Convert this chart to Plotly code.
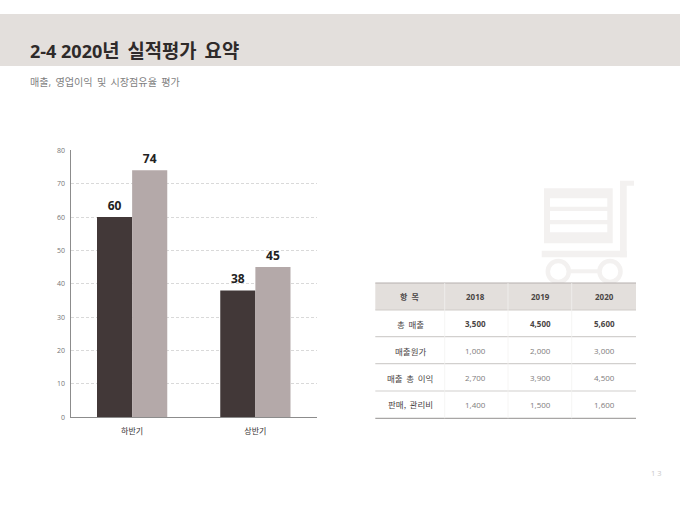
import plotly.graph_objects as go

categories = ["하반기", "상반기"]
series_dark = [60, 38]
series_light = [74, 45]
y_ticks = [0, 10, 20, 30, 40, 50, 60, 70, 80]

table_header = ["항  목", "2018", "2019", "2020"]
table_items = ["총 매출", "매출원가", "매출 총 이익", "판매, 관리비"]
col_2018 = ["3,500", "1,000", "2,700", "1,400"]
col_2019 = ["4,500", "2,000", "3,900", "1,500"]
col_2020 = ["5,600", "3,000", "4,500", "1,600"]

title_num = "2-4 2020"
title_rest = "년 실적평가 요약"
subtitle_text = "매출, 영업이익 및 시장점유율 평가"
page_number = "1 3"

W, H = 680, 510
FONT = "'Open Sans', 'Noto Sans CJK KR', sans-serif"
KR = "'Noto Sans CJK KR', 'Open Sans', sans-serif"
px = lambda v: v / W
py = lambda v: 1 - v / H

shapes, annos = [], []


def rect(x0, y0, x1, y1, color, layer="below"):
    shapes.append(dict(type="rect", xref="paper", yref="paper", x0=px(x0), x1=px(x1),
                       y0=py(y0), y1=py(y1), fillcolor=color, line_width=0, layer=layer))


def hline(x0, x1, y, color, width):
    shapes.append(dict(type="line", xref="paper", yref="paper", x0=px(x0), x1=px(x1),
                       y0=py(y), y1=py(y), line=dict(color=color, width=width), layer="below"))


def vline(x, y0, y1, color, width):
    shapes.append(dict(type="line", xref="paper", yref="paper", x0=px(x), x1=px(x),
                       y0=py(y0), y1=py(y1), line=dict(color=color, width=width), layer="below"))


def text(x, y, s, size, color, bold=False, anchor="center", family=FONT):
    annos.append(dict(xref="paper", yref="paper", x=px(x), y=py(y), text=f"<b>{s}</b>" if bold else s,
                      showarrow=False, xanchor=anchor, yanchor="middle", borderpad=0,
                      font=dict(size=size, color=color, family=family)))


# header band
rect(0, 14, 680, 66, "#e3dfdc")
styled_rest = '<span style="font-size:18.8px">' + title_rest.replace(" ", "\u00a0\u2009") + "</span>"
text(29, 51, title_num + styled_rest, 18, "#2e2a2a", bold=True, anchor="left")
text(29, 81.5, subtitle_text.replace(" ", "\u00a0\u2009"), 10.1, "#7f7f7f", anchor="left")
text(656, 472.5, page_number, 7.5, "#c8c8c8")

# cart icon
ICON = "#f3f1f0"
rect(544, 188.3, 612.7, 243.3, ICON)
for a, b in [(198.3, 206.7), (211, 220), (224.3, 232.3)]:
    rect(550, a, 607.3, b, "#ffffff")
rect(541.7, 250.7, 626.7, 257.3, ICON)
rect(620, 181, 626.7, 257.3, ICON)
rect(620, 180.7, 634, 185.7, ICON)
rect(570, 269.3, 598, 273.3, ICON)
for cx in (558.3, 610):
    shapes.append(dict(type="circle", xref="paper", yref="paper", x0=px(cx - 10.5), x1=px(cx + 10.5),
                       y0=py(271.5 - 10.5), y1=py(271.5 + 10.5), fillcolor="rgba(0,0,0,0)",
                       line=dict(color=ICON, width=4.5), layer="below"))

# table
rect(375.3, 283, 636, 310, "#e3dfdc")
hline(375.3, 636, 283, "#b5b0ad", 1.2)
hline(375.3, 636, 310, "#cfcbc8", 1)
for y in (336.7, 363.7, 391):
    hline(375.3, 636, y, "#d2d0ce", 1.2)
hline(375.3, 636, 418.3, "#a8a6a5", 1.2)
for x in (444.7, 508, 571.7):
    vline(x, 283, 418.3, "#f3f1f0", 0.75)

col_x = [410, 476, 540, 604]
row_y = [323.5, 350.5, 377.5, 404]
for x, h in zip(col_x, table_header):
    text(x, 296.5, h.replace("  ", "\u00a0\u00a0"), 8, "#4a4545", bold=True)
for i, y in enumerate(row_y):
    first = i == 0
    text(col_x[0], y, table_items[i].replace(" ", "\u00a0\u2009"), 8.5, "#4a4545", family=KR)
    for x, col in zip(col_x[1:], (col_2018, col_2019, col_2020)):
        text(x, y, col[i], 8, "#4a4545" if first else "#807c7c", bold=first)

fig = go.Figure()
fig.add_bar(name="전반", x=categories, y=series_dark, marker=dict(color="#423838", line_width=0),
            text=series_dark, textposition="outside",
            textfont=dict(size=12, color="#222222", family=FONT, weight="bold"), cliponaxis=False)
fig.add_bar(name="후반", x=categories, y=series_light, marker=dict(color="#b4a9a9", line_width=0),
            text=series_light, textposition="outside",
            textfont=dict(size=12, color="#222222", family=FONT, weight="bold"), cliponaxis=False)

fig.update_layout(
    width=W, height=H, margin=dict(l=0, r=0, t=0, b=0), autosize=False,
    paper_bgcolor="#ffffff", plot_bgcolor="rgba(0,0,0,0)", showlegend=False,
    barmode="group", bargap=0.43, bargroupgap=0, shapes=shapes, annotations=annos,
    font=dict(family=FONT),
    xaxis=dict(domain=[px(70.5), px(317)], showline=True, linecolor="#8c8c8c", linewidth=1,
               automargin=False, ticks="", showgrid=False, ticklabelstandoff=6,
               tickfont=dict(size=8, color="#333030", family=KR)),
    yaxis=dict(domain=[py(417.3), py(150.3)], range=[0, 80], tickvals=y_ticks, showline=True,
               automargin=False, linecolor="#8c8c8c", linewidth=1, ticks="", gridcolor="#d9d9d9",
               griddash="3px,2px", gridwidth=0.75, zeroline=False, ticklabelstandoff=3,
               tickfont=dict(size=7, color="#757575", family=FONT)),
)
fig.write_html(
    "out.html",
    config={"displayModeBar": False},
    post_script="document.documentElement.style.overflow='hidden';document.body.style.margin='0';"
                "var d=document.querySelector('.plotly-graph-div');d.style.position='absolute';"
                "d.style.left='0';d.style.top='0';",
)
